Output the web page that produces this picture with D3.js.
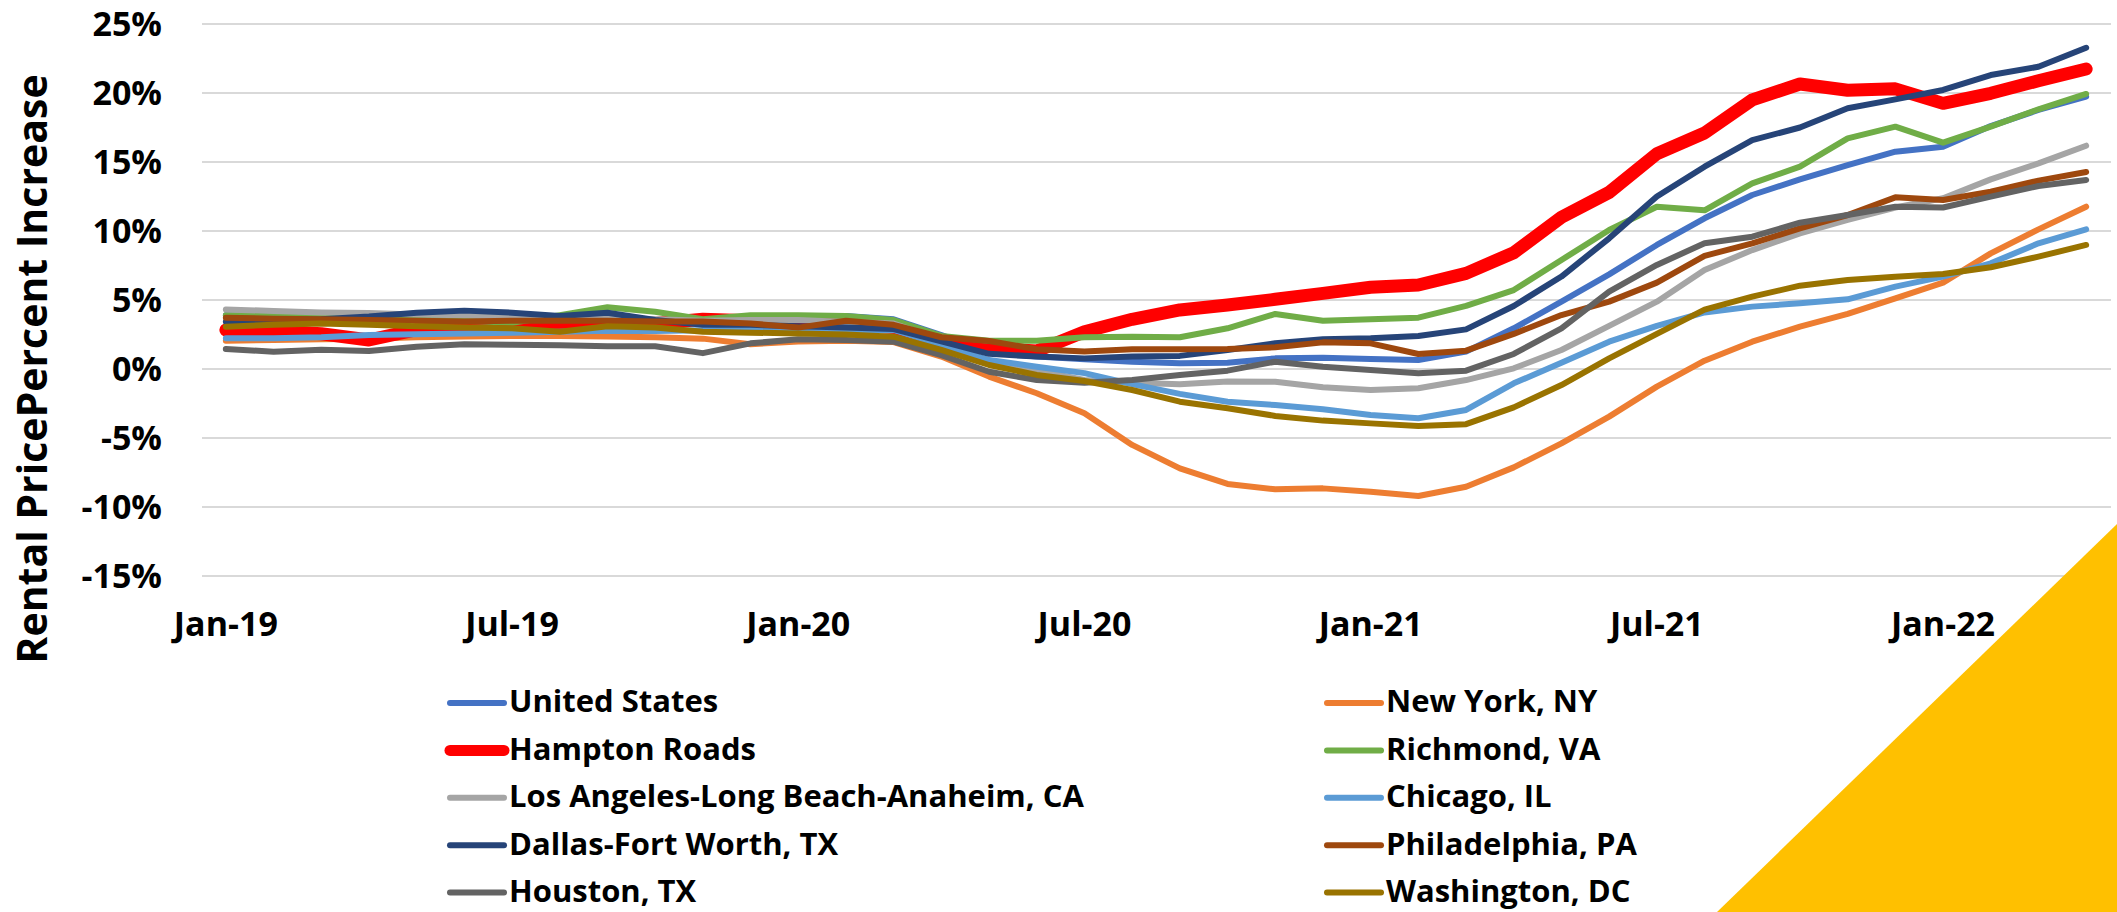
<!DOCTYPE html>
<html>

<head>
    <meta charset="utf-8">
    <title>Rental Price Percent Increase</title>
    <script src="https://d3js.org/d3.v7.min.js"></script>
    <style>
        body {
            margin: 0;
            background: #fff;
        }

        text {
            font-family: "Open Sans", "Noto Sans", sans-serif;
            font-weight: 700;
            fill: #000;
        }
    </style>
</head>

<body>
    <svg id="chart" width="2117" height="912"></svg>
    <script>
        // months shown on the category axis
        const months = ["Jan-19", "Feb-19", "Mar-19", "Apr-19", "May-19", "Jun-19", "Jul-19", "Aug-19", "Sep-19", "Oct-19",
            "Nov-19", "Dec-19", "Jan-20", "Feb-20", "Mar-20", "Apr-20", "May-20", "Jun-20", "Jul-20", "Aug-20",
            "Sep-20", "Oct-20", "Nov-20", "Dec-20", "Jan-21", "Feb-21", "Mar-21", "Apr-21", "May-21", "Jun-21",
            "Jul-21", "Aug-21", "Sep-21", "Oct-21", "Nov-21", "Dec-21", "Jan-22", "Feb-22", "Mar-22", "Apr-22"];
        const tickLabels = ["Jan-19", "Jul-19", "Jan-20", "Jul-20", "Jan-21", "Jul-21", "Jan-22"];
        const yTicks = [-15, -10, -5, 0, 5, 10, 15, 20, 25];

        // percent change, one value per month
        const unitedStates = [3.9, 3.8, 3.7, 3.6, 3.55, 3.5, 3.45, 3.4, 3.4, 3.4, 3.4, 3.4, 3.6, 3.84, 3.6,
            2.46, 1.2, 0.9, 0.7, 0.53, 0.41, 0.46, 0.77, 0.82, 0.72,
            0.65, 1.26, 2.95, 4.88, 6.86, 8.99, 10.92, 12.61, 13.74, 14.78, 15.75, 16.11, 17.6, 18.77, 19.73];
        const newYork = [2.05, 2.1, 2.15, 2.2, 2.3, 2.35, 2.4, 2.4, 2.35, 2.3, 2.2, 1.8, 2.0, 2.05, 1.95,
            0.9, -0.55, -1.76, -3.2, -5.5, -7.2, -8.33, -8.72, -8.65, -8.89,
            -9.2, -8.53, -7.13, -5.39, -3.45, -1.28, 0.6, 1.98, 3.07, 3.99, 5.12, 6.26, 8.38, 10.12, 11.76];
        const hamptonRoads = [2.83, 2.75, 2.55, 2.1, 2.85, 2.9, 3.1, 3.2, 3.0, 3.3, 3.6, 3.5, 3.3, 3.2, 3.0,
            2.1, 1.5, 1.3, 2.7, 3.6, 4.28, 4.64, 5.05, 5.48, 5.92,
            6.09, 6.93, 8.43, 11.0, 12.8, 15.6, 17.1, 19.5, 20.65, 20.2, 20.3, 19.25, 19.98, 20.89, 21.74];
        const richmond = [3.9, 3.85, 3.8, 3.6, 3.6, 3.5, 3.35, 3.9, 4.47, 4.15, 3.6, 3.9, 3.9, 3.84, 3.55,
            2.4, 2.05, 2.05, 2.3, 2.34, 2.3, 2.95, 3.99, 3.5, 3.6,
            3.72, 4.57, 5.72, 7.9, 10.07, 11.76, 11.5, 13.45, 14.66, 16.71, 17.56, 16.4, 17.56, 18.82, 19.93];
        const losAngeles = [4.32, 4.2, 4.1, 4.05, 3.95, 3.9, 3.8, 3.7, 3.67, 3.6, 3.5, 3.55, 3.55, 3.4, 3.3,
            2.1, 0.5, -0.1, -0.8, -1.0, -1.1, -0.9, -0.92, -1.33, -1.52,
            -1.4, -0.8, 0.05, 1.38, 3.12, 4.88, 7.17, 8.62, 9.83, 10.8, 11.7, 12.37, 13.74, 14.9, 16.18];
        const chicago = [2.22, 2.22, 2.3, 2.46, 2.52, 2.58, 2.63, 2.7, 2.78, 2.75, 2.8, 2.87, 2.8, 2.75, 2.83,
            1.74, 0.65, 0.17, -0.3, -1.1, -1.8, -2.37, -2.61, -2.92, -3.33,
            -3.57, -2.97, -1.04, 0.46, 1.98, 3.12, 4.1, 4.52, 4.76, 5.05, 5.97, 6.69, 7.66, 9.11, 10.12];
        const dallas = [3.43, 3.55, 3.6, 3.8, 4.08, 4.23, 4.08, 3.84, 4.08, 3.55, 3.2, 3.2, 3.1, 3.0, 2.9,
            2.0, 1.1, 0.9, 0.77, 0.9, 0.95, 1.38, 1.86, 2.15, 2.22,
            2.39, 2.87, 4.57, 6.7, 9.47, 12.5, 14.66, 16.59, 17.5, 18.89, 19.54, 20.22, 21.3, 21.9, 23.28];
        const philadelphia = [3.72, 3.65, 3.6, 3.55, 3.5, 3.45, 3.5, 3.5, 3.5, 3.45, 3.45, 3.3, 3.0, 3.5, 3.2,
            2.3, 2.03, 1.43, 1.26, 1.43, 1.43, 1.45, 1.57, 1.93, 1.86,
            1.09, 1.33, 2.54, 3.91, 4.88, 6.26, 8.2, 9.11, 10.19, 11.16, 12.44, 12.25, 12.85, 13.65, 14.28];
        const houston = [1.45, 1.25, 1.4, 1.3, 1.62, 1.8, 1.75, 1.72, 1.65, 1.65, 1.15, 1.86, 2.15, 2.1, 1.98,
            1.01, -0.2, -0.8, -1.0, -0.8, -0.43, -0.12, 0.53, 0.17, -0.07,
            -0.31, -0.12, 1.09, 2.95, 5.6, 7.54, 9.11, 9.59, 10.6, 11.16, 11.76, 11.7, 12.49, 13.26, 13.7];
        const washington = [3.07, 3.2, 3.3, 3.2, 3.1, 3.0, 2.95, 2.7, 3.1, 3.0, 2.7, 2.63, 2.58, 2.5, 2.34,
            1.38, 0.29, -0.43, -0.87, -1.52, -2.37, -2.85, -3.4, -3.74, -3.94,
            -4.13, -4.0, -2.78, -1.16, 0.77, 2.54, 4.3, 5.24, 6.04, 6.45, 6.69, 6.88, 7.37, 8.14, 8.99];

        // series in legend order (row by row)
        const series = [
            { name: "United States", values: unitedStates, color: "#4472C4", width: 6 },
            { name: "New York, NY", values: newYork, color: "#ED7D31", width: 6 },
            { name: "Hampton Roads", values: hamptonRoads, color: "#FF0000", width: 13 },
            { name: "Richmond, VA", values: richmond, color: "#70AD47", width: 6 },
            { name: "Los Angeles-Long Beach-Anaheim, CA", values: losAngeles, color: "#A5A5A5", width: 6 },
            { name: "Chicago, IL", values: chicago, color: "#5B9BD5", width: 6 },
            { name: "Dallas-Fort Worth, TX", values: dallas, color: "#264478", width: 6 },
            { name: "Philadelphia, PA", values: philadelphia, color: "#9E480E", width: 6 },
            { name: "Houston, TX", values: houston, color: "#636363", width: 6 },
            { name: "Washington, DC", values: washington, color: "#997300", width: 6 }
        ];

        const svg = d3.select("#chart");

        const x = d3.scalePoint()
            .domain(months)
            .range([202, 2110])
            .padding(0.5);

        const y = d3.scaleLinear()
            .domain([-15, 25])
            .range([576, 24]);

        // horizontal gridlines
        svg.append("g")
            .selectAll("line")
            .data(yTicks)
            .join("line")
            .attr("x1", 202)
            .attr("x2", 2111)
            .attr("y1", d => y(d))
            .attr("y2", d => y(d))
            .attr("stroke", "#D9D9D9")
            .attr("stroke-width", 2);

        // y tick labels
        svg.append("g")
            .selectAll("text")
            .data(yTicks)
            .join("text")
            .attr("x", 162)
            .attr("y", d => y(d))
            .attr("dy", "0.36em")
            .attr("text-anchor", "end")
            .style("font-size", "34px")
            .text(d => d + "%");

        // x tick labels
        svg.append("g")
            .selectAll("text")
            .data(tickLabels)
            .join("text")
            .attr("x", d => x(d))
            .attr("y", 636)
            .attr("text-anchor", "middle")
            .style("font-size", "34px")
            .text(d => d);

        // y axis title
        svg.append("text")
            .attr("transform", "translate(47,369) rotate(-90)")
            .attr("text-anchor", "middle")
            .style("font-size", "41px")
            .text("Rental PricePercent Increase");

        // the lines
        const line = d3.line()
            .x((d, i) => x(months[i]))
            .y(d => y(d));

        svg.append("g")
            .selectAll("path")
            .data(series)
            .join("path")
            .attr("d", d => line(d.values))
            .attr("fill", "none")
            .attr("stroke", d => d.color)
            .attr("stroke-width", d => d.width)
            .attr("stroke-linejoin", "round")
            .attr("stroke-linecap", "round");

        // legend, two columns of five
        const legend = svg.append("g")
            .selectAll("g")
            .data(series)
            .join("g")
            .attr("transform", (d, i) => `translate(${i % 2 ? 1327 : 450},${703 + Math.floor(i / 2) * 47.4})`);

        legend.append("line")
            .attr("x1", 0)
            .attr("x2", 54)
            .attr("stroke", d => d.color)
            .attr("stroke-width", d => d.width > 6 ? 11 : 6)
            .attr("stroke-linecap", "round");

        legend.append("text")
            .attr("x", 59)
            .attr("dy", "0.3em")
            .style("font-size", "31px")
            .text(d => d.name);

        // gold corner decoration
        svg.append("polygon")
            .attr("points", "1717,912 2117,524 2117,912")
            .attr("fill", "#FFC000");
    </script>
</body>

</html>
